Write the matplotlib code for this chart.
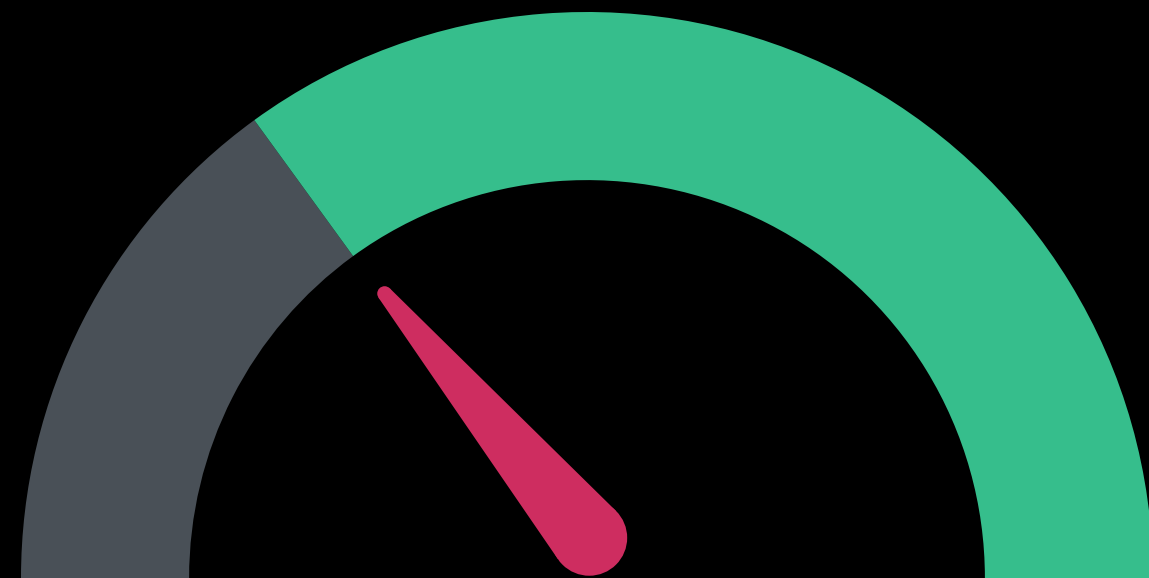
import numpy as np
import matplotlib
matplotlib.use("Agg")
import matplotlib.pyplot as plt
from matplotlib.patches import Wedge, Circle, Polygon

# gauge bands (share of the half circle, in percent)
band_names = ["low", "rest"]
band_values = [30, 70]
band_colors = ["#495057", "#36be8c"]

# needle reading on the same 0-100 scale
needle_value = 27.8
gauge_max = 100

fig = plt.figure(figsize=(11.49, 5.78), dpi=100, facecolor="black")
ax = fig.add_axes([0, 0, 1, 1])
ax.set_facecolor("black")

outer_r = 1.0
inner_r = 0.703

# half ring, drawn from the left (180°) round to the right (0°)
start = 180.0
for val, col in zip(band_values, band_colors):
    sweep = val / gauge_max * 180.0
    ax.add_patch(Wedge((0, 0), outer_r, start - sweep, start,
                       width=outer_r - inner_r, facecolor=col, edgecolor="none"))
    start -= sweep

# needle: round hub, round tip, tangent sides
hub = np.array([0.004, 0.071])
hub_r = 0.067
tip_r = 0.013
length = 0.563
theta = np.radians(180.0 - needle_value / gauge_max * 180.0)
tip = hub + length * np.array([np.cos(theta), np.sin(theta)])
phi = np.arccos((hub_r - tip_r) / length)
pts = []
for s in (1, -1):
    a = theta + s * phi
    pts.append(hub + hub_r * np.array([np.cos(a), np.sin(a)]))
    pts.append(tip + tip_r * np.array([np.cos(a), np.sin(a)]))
needle_color = "#ce2d60"
ax.add_patch(Polygon([pts[0], pts[1], pts[3], pts[2]], closed=True,
                     facecolor=needle_color, edgecolor="none"))
ax.add_patch(Circle(hub, hub_r, facecolor=needle_color, edgecolor="none"))
ax.add_patch(Circle(tip, tip_r, facecolor=needle_color, edgecolor="none"))

# centre of the ring sits on the bottom edge, a little right of middle
cx, r_px = 587, 566
ax.set_xlim(-cx / r_px, (1149 - cx) / r_px)
ax.set_ylim(0, 578 / r_px)
ax.set_aspect("equal")
ax.axis("off")

fig.savefig("out.png", dpi=100, facecolor="black")
